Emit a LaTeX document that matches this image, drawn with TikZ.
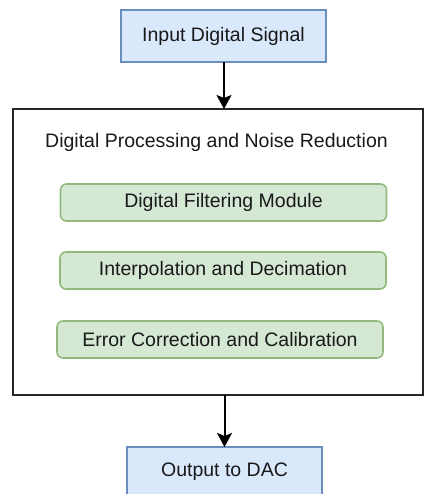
\documentclass[tikz,border=0pt]{standalone}
\usepackage{fontspec}
\setmainfont{Liberation Sans}
\usetikzlibrary{arrows.meta}

\definecolor{blueFill}{HTML}{DAE8FC}
\definecolor{blueLine}{HTML}{6C8EBF}
\definecolor{greenFill}{HTML}{D5E8D4}
\definecolor{greenLine}{HTML}{93BA7C}

\tikzset{
  txt/.style={font=\fontsize{19.5}{22}\selectfont, text=black!90, inner sep=0pt, outer sep=0pt},
  io/.style={txt, draw=blueLine, fill=blueFill, line width=2pt, minimum height=52pt},
  stage/.style={txt, draw=greenLine, fill=greenFill, line width=1.6pt,
                rounded corners=6pt, minimum width=326pt, minimum height=37pt},
  frame/.style={draw=black!85, line width=2.8pt, inner sep=0pt, outer sep=0pt,
                minimum width=410pt, minimum height=286pt},
  flow/.style={line width=2pt, -{Stealth[length=14pt, width=15pt, inset=3pt]}}
}

\begin{document}
\begin{tikzpicture}[x=1pt, y=-1pt]
  \useasboundingbox (0,0) rectangle (424,494);

  % input block
  \node[io, minimum width=205pt] (in) at (223.5,36) {Input Digital Signal};

  % processing frame and its title
  \node[frame] (frame) at (218,252) {};
  \node[txt] (title) at (216.5,142) {Digital Processing and Noise Reduction};

  % processing stages
  \node[stage] (filt) at (223.5,202.5) {Digital Filtering Module};
  \node[stage] (interp) at (223,270.5) {Interpolation and Decimation};
  \node[stage] (err) at (220,339.5) {Error Correction and Calibration};

  % output block (runs past the lower edge)
  \node[io, minimum width=195pt, minimum height=50pt] (out) at (224.5,472) {Output to DAC};

  % connectors
  \draw[flow] ([xshift=0.5pt]in.south) -- ([xshift=0.5pt]in.south |- frame.north);
  \draw[flow] (out.north |- frame.south) -- (out.north);
\end{tikzpicture}
\end{document}
